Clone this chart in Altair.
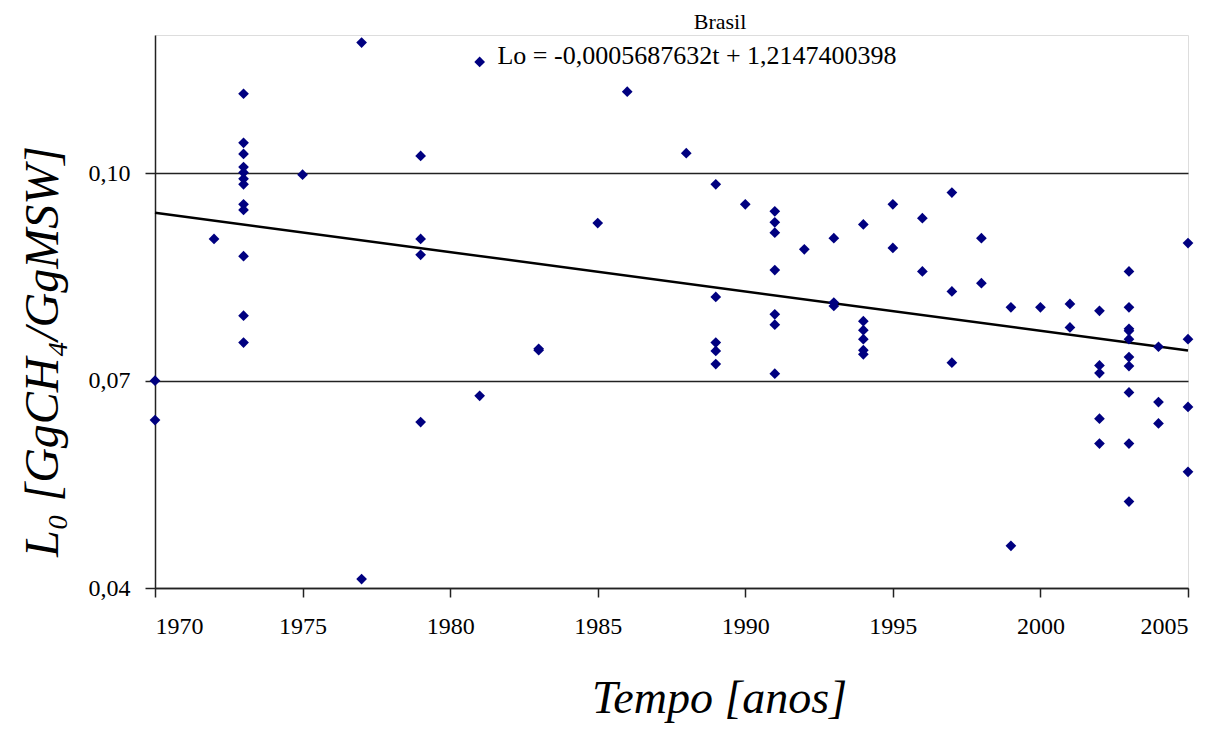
import altair as alt
import pandas as pd

# Data
years = [1970, 1970,
         1972,
         1973, 1973, 1973, 1973, 1973, 1973, 1973, 1973, 1973, 1973, 1973, 1973,
         1975,
         1977, 1977,
         1979, 1979, 1979, 1979,
         1981, 1981,
         1983, 1983,
         1985,
         1986,
         1988,
         1989, 1989, 1989, 1989, 1989,
         1990,
         1991, 1991, 1991, 1991, 1991, 1991, 1991,
         1992,
         1993, 1993, 1993,
         1994, 1994, 1994, 1994, 1994, 1994,
         1995, 1995,
         1996, 1996,
         1997, 1997, 1997,
         1998, 1998,
         1999, 1999,
         2000,
         2001, 2001,
         2002, 2002, 2002, 2002, 2002,
         2003, 2003, 2003, 2003, 2003, 2003, 2003, 2003, 2003, 2003,
         2004, 2004, 2004,
         2005, 2005, 2005, 2005]
values = [0.0700, 0.0643,
          0.0905,
          0.1115, 0.1044, 0.1028, 0.1009, 0.1001, 0.0992, 0.0984, 0.0955, 0.0947, 0.0880, 0.0794, 0.0755,
          0.0998,
          0.1189, 0.0413,
          0.1025, 0.0905, 0.0882, 0.0640,
          0.1161, 0.0678,
          0.0746, 0.0744,
          0.0928,
          0.1118,
          0.1029,
          0.0984, 0.0821, 0.0755, 0.0743, 0.0724,
          0.0955,
          0.0945, 0.0929, 0.0914, 0.0860, 0.0796, 0.0781, 0.0710,
          0.0890,
          0.0906, 0.0813, 0.0808,
          0.0926, 0.0786, 0.0773, 0.0760, 0.0744, 0.0738,
          0.0955, 0.0892,
          0.0935, 0.0858,
          0.0972, 0.0829, 0.0726,
          0.0906, 0.0841,
          0.0806, 0.0461,
          0.0806,
          0.0811, 0.0777,
          0.0801, 0.0722, 0.0711, 0.0645, 0.0609,
          0.0858, 0.0806, 0.0775, 0.0772, 0.0760, 0.0734, 0.0721, 0.0683, 0.0609, 0.0525,
          0.0749, 0.0669, 0.0638,
          0.0899, 0.0760, 0.0662, 0.0568]

# Trend line as given by the equation printed on the chart
trend_slope = -0.0005687632
trend_intercept = 1.2147400398
trend_years = [1970, 2005]

x_ticks = [1970, 1975, 1980, 1985, 1990, 1995, 2000, 2005]
y_ticks = [0.04, 0.07, 0.10]

title_text = "Brasil"
equation_text = "Lo = -0,0005687632t + 1,2147400398"

pts = pd.DataFrame({"year": years, "L0": values})
trend = pd.DataFrame({"year": trend_years,
                      "L0": [trend_slope * t + trend_intercept for t in trend_years]})

SERIF = "Liberation Serif"

x_scale = alt.Scale(domain=[1970, 2005], nice=False, zero=False)
y_scale = alt.Scale(domain=[0.04, 0.12], nice=False, zero=False)

x_axis = alt.Axis(values=x_ticks, format="d", grid=False,
                  labelFont=SERIF, labelFontSize=24, labelColor="black",
                  labelPadding=17, tickSize=9, tickColor="#222", domainColor="#222",
                  domainWidth=1.5, tickWidth=1.5,
                  title="Tempo [anos]", titleFont=SERIF, titleFontSize=46,
                  titleFontStyle="italic", titleFontWeight="normal", titleColor="black",
                  titleX=564, titleY=124, titleAlign="center", titleBaseline="alphabetic")

y_axis = alt.Axis(values=y_ticks, grid=True, gridColor="#222", gridWidth=1.5, gridOpacity=1,
                  labelExpr="replace(format(datum.value, '.2f'), '.', ',')",
                  labelFont=SERIF, labelFontSize=24, labelColor="black",
                  labelPadding=15, tickSize=10, tickColor="#222", domainColor="#222",
                  domainWidth=1.5, tickWidth=1.5,
                  title="L₀ [GgCH₄/GgMSW]", titleFont=SERIF, titleFontSize=48,
                  titleFontStyle="italic", titleFontWeight="normal", titleColor="black",
                  titleX=-98, titleY=316, titleAngle=-90,
                  titleAlign="center", titleBaseline="alphabetic")

points = alt.Chart(pts).mark_point(shape="diamond", filled=True, size=115,
                                   color="#000080", opacity=1).encode(
    x=alt.X("year:Q", scale=x_scale, axis=x_axis),
    y=alt.Y("L0:Q", scale=y_scale, axis=y_axis),
)

line = alt.Chart(trend).mark_line(color="black", strokeWidth=2.5).encode(
    x=alt.X("year:Q", scale=x_scale),
    y=alt.Y("L0:Q", scale=y_scale),
)

title_mark = alt.Chart(pd.DataFrame({"t": [title_text]})).mark_text(
    font=SERIF, fontSize=22, color="black", align="center", baseline="alphabetic"
).encode(text="t:N", x=alt.value(565), y=alt.value(-6))

eq_mark = alt.Chart(pd.DataFrame({"t": [equation_text]})).mark_text(
    font=SERIF, fontSize=26, color="black", align="center", baseline="middle"
).encode(text="t:N", x=alt.value(542), y=alt.value(21))

chart = alt.layer(line, points, title_mark, eq_mark).properties(
    width=1033, height=553,
    autosize=alt.AutoSizeParams(type="none"),
    padding={"left": 147, "top": 27, "right": 21, "bottom": 138},
).configure_view(stroke=None).configure(background="white")

chart.save("out.html", embed_options={"renderer": "svg", "actions": False})
